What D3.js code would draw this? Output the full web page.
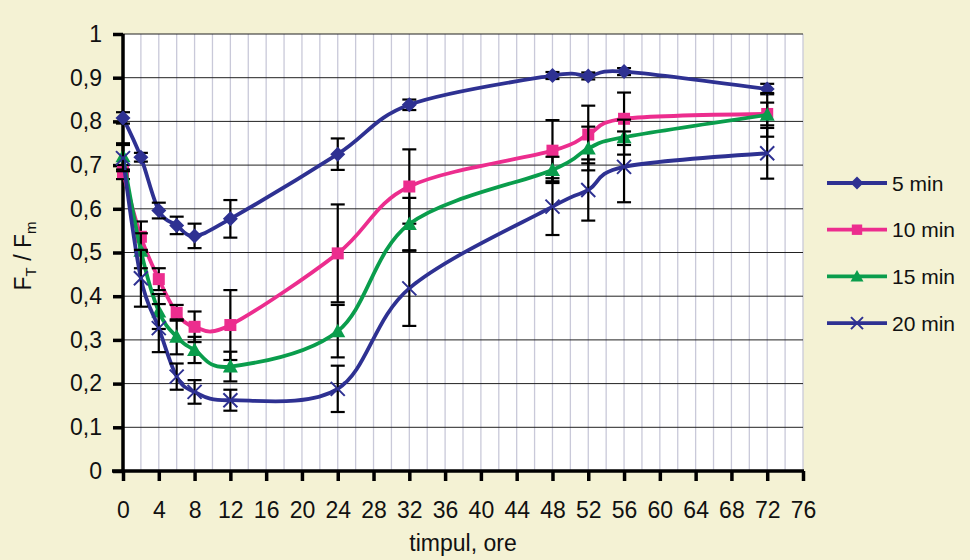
<!DOCTYPE html>
<html>
<head>
<meta charset="utf-8">
<script src="https://cdn.jsdelivr.net/npm/d3@7"></script>
<style>
  body { margin: 0; background: #f4f2d4; }
  svg { display: block; font-family: "Liberation Sans", Arial, sans-serif; }
</style>
</head>
<body>
<svg id="chart" width="970" height="560"></svg>
<script>
// timpul, ore
const hours = [0, 2, 4, 6, 8, 12, 24, 32, 48, 52, 56, 72];

const min5  = [0.808, 0.718, 0.596, 0.562, 0.538, 0.577, 0.725, 0.838, 0.905, 0.904, 0.914, 0.874];
const err5  = [0.013, 0.010, 0.018, 0.020, 0.028, 0.043, 0.036, 0.012, 0.008, 0.008, 0.008, 0.012];

const min10 = [0.684, 0.536, 0.439, 0.362, 0.330, 0.334, 0.498, 0.651, 0.733, 0.770, 0.806, 0.817];
const err10 = [0.016, 0.035, 0.025, 0.018, 0.035, 0.080, 0.112, 0.085, 0.070, 0.066, 0.060, 0.026];

const min15 = [0.720, 0.504, 0.365, 0.307, 0.277, 0.239, 0.320, 0.565, 0.689, 0.738, 0.764, 0.815];
const err15 = [0.030, 0.040, 0.040, 0.040, 0.030, 0.034, 0.060, 0.060, 0.030, 0.050, 0.040, 0.050];

const min20 = [0.716, 0.441, 0.327, 0.216, 0.181, 0.162, 0.188, 0.418, 0.605, 0.643, 0.696, 0.727];
const err20 = [0.030, 0.065, 0.055, 0.030, 0.027, 0.024, 0.053, 0.086, 0.065, 0.070, 0.081, 0.058];

const seriesNames = ['5 min', '10 min', '15 min', '20 min'];
const xTicks = d3.range(0, 77, 4);
const yTicks = d3.range(0, 11).map(d => d / 10);

const series = [
  { name: seriesNames[0], values: min5,  errors: err5,  color: '#2e3192', marker: 'diamond' },
  { name: seriesNames[1], values: min10, errors: err10, color: '#ec2d8e', marker: 'square' },
  { name: seriesNames[2], values: min15, errors: err15, color: '#0a9d4c', marker: 'triangle' },
  { name: seriesNames[3], values: min20, errors: err20, color: '#2e3192', marker: 'cross' },
];

const svg = d3.select('#chart');

const x = d3.scaleLinear().domain([0, 76]).range([123, 803]);
const y = d3.scaleLinear().domain([0, 1]).range([471, 34]);

// plot area
svg.append('rect')
  .attr('x', x(0)).attr('y', y(1))
  .attr('width', x(76) - x(0)).attr('height', y(0) - y(1))
  .attr('fill', '#fff');

// vertical grid every 2 h
svg.append('g')
  .selectAll('line')
  .data(d3.range(2, 77, 2))
  .join('line')
  .attr('x1', d => x(d)).attr('x2', d => x(d))
  .attr('y1', y(1)).attr('y2', y(0))
  .attr('stroke', '#c9c9d9')
  .attr('stroke-width', 1.3);

// horizontal grid
svg.append('g')
  .selectAll('line')
  .data(yTicks.slice(1))
  .join('line')
  .attr('x1', x(0)).attr('x2', x(76))
  .attr('y1', d => y(d)).attr('y2', d => y(d))
  .attr('stroke', '#222')
  .attr('stroke-width', 1);

// axes
const fmt = d => d === 0 ? '0' : d === 1 ? '1' : d3.format('.1f')(d).replace('.', ',');

const yAxis = svg.append('g')
  .attr('transform', `translate(${x(0)},0)`)
  .call(d3.axisLeft(y).tickValues(yTicks).tickFormat(fmt).tickSize(10).tickPadding(11));

const xAxis = svg.append('g')
  .attr('transform', `translate(0,${y(0)})`)
  .call(d3.axisBottom(x).tickValues(xTicks).tickSize(10).tickPadding(21));

[xAxis, yAxis].forEach(ax => {
  ax.select('.domain').attr('stroke', '#000').attr('stroke-width', 3.5);
  ax.selectAll('.tick line').attr('stroke', '#000').attr('stroke-width', 3.5);
  ax.selectAll('.tick text').attr('fill', '#111').style('font-size', '23px');
});
xAxis.select('.domain').attr('d', `M${x(0) - 11},0H${x(76) + 1}`);
yAxis.select('.domain').attr('d', `M0,${y(1)}V${y(0) + 1}`);

// markers
function drawMarker(g, type, color, size) {
  const s = size;
  if (type === 'diamond') {
    g.append('path').attr('d', `M0,${-s}L${s},0L0,${s}L${-s},0Z`).attr('fill', color);
  } else if (type === 'square') {
    g.append('rect').attr('x', -s * 0.8).attr('y', -s * 0.8)
      .attr('width', s * 1.6).attr('height', s * 1.6).attr('fill', color);
  } else if (type === 'triangle') {
    g.append('path').attr('d', `M0,${-s}L${s},${s * 0.8}L${-s},${s * 0.8}Z`).attr('fill', color);
  } else {
    g.append('path').attr('d', `M${-s},${-s}L${s},${s}M${-s},${s}L${s},${-s}`)
      .attr('stroke', color).attr('stroke-width', 2).attr('fill', 'none');
  }
}

const line = d3.line()
  .x(d => x(d.t))
  .y(d => y(d.v))
  .curve(d3.curveCatmullRom.alpha(0));

series.forEach(s => {
  const pts = hours.map((t, i) => ({ t: t, v: s.values[i], e: s.errors[i] }));
  const g = svg.append('g');

  g.append('path')
    .datum(pts)
    .attr('fill', 'none')
    .attr('stroke', s.color)
    .attr('stroke-width', 3.8)
    .attr('d', line);

  // error bars
  const eb = g.append('g').attr('stroke', '#000').attr('stroke-width', 2.2);
  pts.forEach(p => {
    eb.append('line').attr('x1', x(p.t)).attr('x2', x(p.t))
      .attr('y1', y(p.v + p.e)).attr('y2', y(p.v - p.e));
    [p.v + p.e, p.v - p.e].forEach(v => {
      eb.append('line').attr('x1', x(p.t) - 7).attr('x2', x(p.t) + 7)
        .attr('y1', y(v)).attr('y2', y(v));
    });
  });

  pts.forEach(p => {
    const m = g.append('g').attr('transform', `translate(${x(p.t)},${y(p.v)})`);
    drawMarker(m, s.marker, s.color, s.marker === 'cross' ? 7 : 7.5);
  });
});

// legend
const legend = svg.append('g');
series.forEach((s, i) => {
  const ly = 183 + i * 46.7;
  const lg = legend.append('g');
  lg.append('line').attr('x1', 827).attr('x2', 887).attr('y1', ly).attr('y2', ly)
    .attr('stroke', s.color).attr('stroke-width', 3.8);
  const m = lg.append('g').attr('transform', `translate(857,${ly})`);
  drawMarker(m, s.marker, s.color, s.marker === 'cross' ? 6 : 6.5);
  lg.append('text').attr('x', 892).attr('y', ly).attr('dy', '0.36em')
    .attr('fill', '#111').style('font-size', '21px').text(s.name);
});

// axis titles
svg.append('text')
  .attr('x', x(38)).attr('y', 551)
  .attr('text-anchor', 'middle')
  .attr('fill', '#111').style('font-size', '23px')
  .text('timpul, ore');

const yt = svg.append('text')
  .attr('transform', 'translate(31,256) rotate(-90)')
  .attr('text-anchor', 'middle')
  .attr('fill', '#111').style('font-size', '23px');
yt.append('tspan').text('F');
yt.append('tspan').attr('dy', 5).style('font-size', '15px').text('T');
yt.append('tspan').attr('dy', -5).text(' / F');
yt.append('tspan').attr('dy', 5).style('font-size', '15px').text('m');
</script>
</body>
</html>
